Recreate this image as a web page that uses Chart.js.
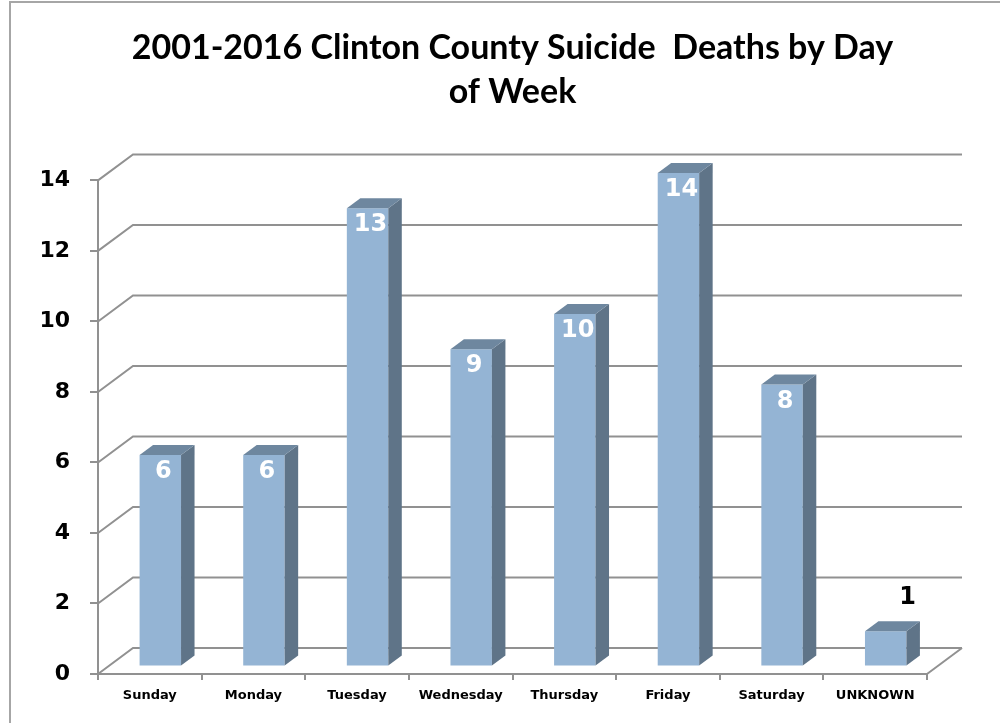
<!DOCTYPE html>
<html lang="en">
<head>
  <meta charset="UTF-8" />
  <title>Clinton County Suicide Deaths by Day of Week</title>
  <script src="https://cdn.jsdelivr.net/npm/chart.js"></script>
  <style>
    body { margin: 0; background: #fff; }
    canvas { display: block; }
  </style>
</head>
<body>
  <canvas id="dayChart" width="1000" height="723"></canvas>

  <script>
    const days = ['Sunday', 'Monday', 'Tuesday', 'Wednesday', 'Thursday', 'Friday', 'Saturday', 'UNKNOWN'];
    const deaths = [6, 6, 13, 9, 10, 14, 8, 1];
    const titleLines = ['2001-2016 Clinton County Suicide  Deaths by Day', 'of Week'];

    // fake 3d: offsets for bar front face, bar depth and back wall
    const faceDx = 10.5, faceDy = -7.5;
    const barDx = 13.5, barDy = -10;
    const wallDx = 35, wallDy = -26;
    const gridColor = '#919191';

    const fake3d = {
      id: 'fake3d',
      beforeDraw(chart) {
        const ctx = chart.ctx;
        ctx.save();
        ctx.strokeStyle = '#a6a6a6';
        ctx.lineWidth = 2;
        ctx.beginPath();
        ctx.moveTo(10, 723);
        ctx.lineTo(10, 2);
        ctx.lineTo(1000, 2);
        ctx.stroke();
        ctx.restore();
      },
      beforeDatasetsDraw(chart) {
        const ctx = chart.ctx;
        const a = chart.chartArea;
        const y = chart.scales.y;
        ctx.save();
        ctx.strokeStyle = gridColor;
        ctx.lineWidth = 2;
        y.ticks.forEach(t => {
          const py = y.getPixelForValue(t.value);
          ctx.beginPath();
          ctx.moveTo(a.left, py);
          ctx.lineTo(a.left + wallDx, py + wallDy);
          ctx.lineTo(a.right + wallDx, py + wallDy);
          ctx.stroke();
        });
        // floor right edge
        ctx.beginPath();
        ctx.moveTo(a.right, a.bottom);
        ctx.lineTo(a.right + wallDx, a.bottom + wallDy);
        ctx.stroke();
        ctx.restore();
        ctx.save();
        ctx.translate(faceDx, faceDy);
      },
      afterDatasetsDraw(chart) {
        const ctx = chart.ctx;
        ctx.restore();
        const meta = chart.getDatasetMeta(0);
        ctx.save();
        meta.data.forEach((bar, i) => {
          const cx = bar.x + faceDx;
          const top = bar.y + faceDy;
          const base = bar.base + faceDy;
          const l = cx - bar.width / 2, r = cx + bar.width / 2;
          // side
          ctx.fillStyle = '#5f7488';
          ctx.beginPath();
          ctx.moveTo(r, top);
          ctx.lineTo(r + barDx, top + barDy);
          ctx.lineTo(r + barDx, base + barDy);
          ctx.lineTo(r, base);
          ctx.closePath();
          ctx.fill();
          // top
          ctx.fillStyle = '#6e879f';
          ctx.beginPath();
          ctx.moveTo(l, top);
          ctx.lineTo(l + barDx, top + barDy);
          ctx.lineTo(r + barDx, top + barDy);
          ctx.lineTo(r, top);
          ctx.closePath();
          ctx.fill();

          // value labels
          ctx.font = 'bold 24px "DejaVu Sans"';
          ctx.textAlign = 'center';
          ctx.textBaseline = 'middle';
          if (deaths[i] < 3) {
            ctx.fillStyle = '#000';
            ctx.fillText(deaths[i], cx + 22, top - 33);
          } else {
            ctx.fillStyle = '#fff';
            ctx.fillText(deaths[i], cx + 3, top + 17);
          }
        });
        ctx.restore();
      }
    };

    new Chart(document.getElementById('dayChart'), {
      type: 'bar',
      data: {
        labels: days,
        datasets: [{
          data: deaths,
          backgroundColor: '#94b4d4',
          borderWidth: 0,
          categoryPercentage: 1,
          barPercentage: 0.4,
          clip: false
        }]
      },
      options: {
        responsive: false,
        animation: false,
        devicePixelRatio: 1,
        layout: { padding: { left: 0, right: 73, top: 0, bottom: 0 } },
        plugins: {
          legend: { display: false },
          tooltip: { enabled: false },
          title: {
            display: true,
            text: titleLines,
            fullSize: false,
            color: '#000',
            font: { family: 'Lato', size: 34, weight: 'bold', lineHeight: 1.3 },
            padding: { top: 26, bottom: 66 }
          }
        },
        scales: {
          x: {
            afterFit(scale) { scale.height = 49; },
            grid: { drawOnChartArea: false, drawTicks: true, tickLength: 6, color: gridColor, lineWidth: 2, offset: true },
            border: { display: true, color: gridColor, width: 2 },
            ticks: { color: '#000', padding: 8, maxRotation: 0, font: { family: 'DejaVu Sans', size: 13, weight: 'bold' } }
          },
          y: {
            min: 0,
            max: 14,
            afterFit(scale) { scale.width = 98; },
            grid: { drawOnChartArea: false, drawTicks: true, tickLength: 8, color: gridColor, lineWidth: 2 },
            border: { display: true, color: gridColor, width: 2 },
            ticks: { stepSize: 2, color: '#000', padding: 20, font: { family: 'DejaVu Sans', size: 22, weight: 'bold' } }
          }
        }
      },
      plugins: [fake3d]
    });
  </script>
</body>
</html>
